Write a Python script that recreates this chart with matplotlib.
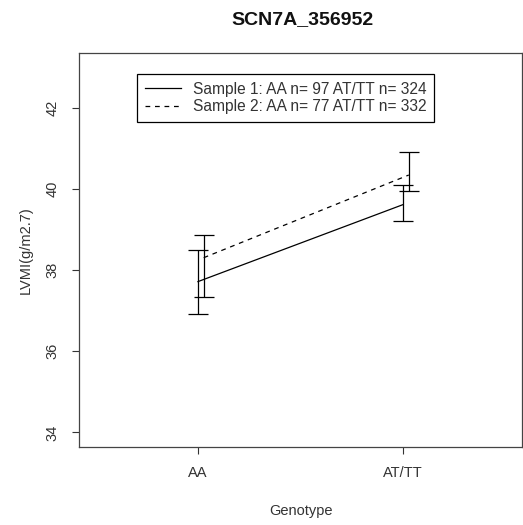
import matplotlib.pyplot as plt
import numpy as np

genotypes = ['AA', 'AT/TT']
s1_mean = [37.72, 39.62]
s1_low = [36.93, 39.21]
s1_high = [38.51, 40.10]
s2_mean = [38.31, 40.35]
s2_low = [37.35, 39.95]
s2_high = [38.88, 40.93]
labels = ['Sample 1: AA n= 97 AT/TT n= 324',
          'Sample 2: AA n= 77 AT/TT n= 332']

plt.rcParams['font.family'] = ['Liberation Sans', 'DejaVu Sans']

fig = plt.figure(figsize=(5.23, 5.25), dpi=100)
ax = fig.add_axes([79 / 523, 1 - 447 / 525, (522 - 79) / 523, (447 - 53) / 525])

x = np.arange(1, len(genotypes) + 1)
off = 0.028
dash = (0, (3.8, 3.8))

for xs, m, lo, hi, ls in [(x, s1_mean, s1_low, s1_high, '-'),
                          (x + off, s2_mean, s2_low, s2_high, dash)]:
    m = np.array(m)
    ax.errorbar(xs, m, yerr=[m - np.array(lo), np.array(hi) - m], color='black',
                lw=0.9, ls=ls, capsize=7.5, capthick=0.9, elinewidth=0.9)

ax.set_xlim(0.42, 2.58)
ax.set_ylim(33.64, 43.36)
ax.set_xticks(x)
ax.set_xticklabels(genotypes)
ax.set_yticks([34, 36, 38, 40, 42])
ax.set_yticklabels(['34', '36', '38', '40', '42'], rotation=90, va='center')
ax.tick_params(length=5, width=0.8, labelsize=10.5, colors='#333333', pad=9)
for sp in ax.spines.values():
    sp.set_linewidth(0.9)
    sp.set_color('#444444')

ax.set_xlabel('Genotype', fontsize=10.5, labelpad=17, color='#333333')
ax.set_ylabel('LVMI(g/m2.7)', fontsize=10.5, labelpad=9, color='#333333')
fig.text(302 / 523, 1 - 20 / 525, 'SCN7A_356952', ha='center', va='center',
         fontsize=14, fontweight='bold', color='#111111')

handles = [plt.Line2D([], [], color='black', lw=0.9, ls='-'),
           plt.Line2D([], [], color='black', lw=0.9, ls=dash)]
leg = ax.legend(handles, labels, loc='upper left',
                bbox_to_anchor=(137 / 523, 1 - 74 / 525), bbox_transform=fig.transFigure,
                borderaxespad=0, fancybox=False, edgecolor='black', fontsize=11.2,
                handlelength=2.3, handletextpad=0.8, labelspacing=0.15,
                borderpad=0.5, framealpha=1)
leg.get_frame().set_linewidth(0.9)
for t in leg.get_texts():
    t.set_color('#333333')

fig.savefig('out.png', dpi=100)
